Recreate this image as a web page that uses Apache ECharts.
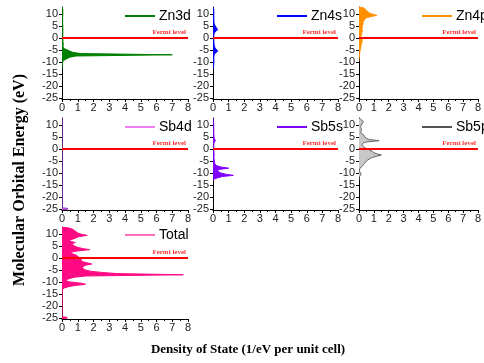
<!DOCTYPE html>
<html><head><meta charset="utf-8">
<script src="https://cdn.jsdelivr.net/npm/echarts@6/dist/echarts.min.js"></script>
<style>html,body{margin:0;padding:0;background:#fff}#c{width:484px;height:363px}</style>
</head><body><div id="c"></div>
<script>
// Energy grid (eV), shared by all panels
const energy = [
  13,12.5,12,11.5,11,10.5,10,9.5,9,8.5,
  8,7.5,7,6.5,6,5.5,5,4.5,4,3.5,
  3,2.5,2,1.5,1,0.5,0,-0.5,-1,-1.5,
  -2,-2.5,-3,-3.5,-4,-4.5,-5,-5.5,-6,-6.5,
  -7,-7.5,-8,-8.5,-9,-9.5,-10,-10.5,-11,-11.5,
  -12,-12.5,-13,
  -24.6,-24.8,-25.2,-25.4
];
const zn3d = [
  0.03,0.03,0.05,0.05,0.05,0.05,0.05,0.05,0.04,0.04,
  0.04,0.04,0.04,0.04,0.04,0.05,0.05,0.05,0.06,0.06,
  0.05,0.05,0.05,0.05,0.05,0.05,0.05,0.05,0.06,0.06,
  0.07,0.08,0.07,0.07,0.1,0.15,0.35,0.5,0.7,1.2,
  7.0,0.9,0.5,0.35,0.2,0.08,0.04,0.03,0.03,0.02,
  0.02,0.01,0,
  null,null,null,null
];
const zn4s = [
  0,0.02,0.05,0.04,0.06,0.05,0.06,0.05,0.06,0.05,
  0.06,0.05,0.06,0.07,0.08,0.1,0.15,0.2,0.25,0.3,
  0.2,0.12,0.08,0.06,0.05,0.04,0.03,0.04,0.05,0.06,
  0.06,0.07,0.08,0.1,0.12,0.18,0.25,0.3,0.2,0.12,
  0.08,0.06,0.05,0.05,0.06,0.05,0.06,0.05,0.05,0.04,
  0.03,0.01,0,
  null,null,null,null
];
const zn4p = [
  0.1,0.35,0.45,0.5,0.6,0.7,0.9,1.2,0.8,0.5,
  0.4,0.35,0.3,0.25,0.3,0.25,0.2,0.25,0.2,0.2,
  0.25,0.2,0.15,0.2,0.15,0.12,0.15,0.2,0.22,0.2,
  0.18,0.15,0.15,0.12,0.12,0.1,0.08,0.06,0.05,0.04,
  0.04,0.03,0.02,0.01,0,0,null,null,null,null,
  null,null,null,
  null,null,null,null
];
const sb4d = [
  0.01,0.01,0.01,0.01,0.01,0.01,0.01,0.01,0.01,0.01,
  0.01,0.01,0.01,0.01,0.01,0.01,0.01,0.01,0.01,0.01,
  0.01,0.01,0.01,0.01,0.01,0.01,0.01,0.01,0.01,0.01,
  0.01,0.01,0.01,0.01,0.01,0.01,0.01,0.01,0.01,0.01,
  0.01,0.01,0.01,0.01,0.01,0.01,0.01,0.01,0.01,0.01,
  0.01,0.01,0.01,
  0.01,0.35,0.35,0.01
];
const sb5s = [
  0,0.01,0.03,0.03,0.04,0.04,0.05,0.05,0.04,0.04,
  0.05,0.05,0.05,0.05,0.06,0.06,0.07,0.08,0.12,0.15,
  0.1,0.06,0.05,0.05,0.05,0.04,0.04,0.05,0.06,0.06,
  0.07,0.07,0.06,0.06,0.07,0.08,0.09,0.1,0.12,0.15,
  0.25,0.5,1.0,0.4,0.3,0.35,0.5,0.8,1.3,0.6,
  0.3,0.1,0.02,
  null,null,null,null
];
const sb5p = [
  0.02,0.1,0.2,0.3,0.25,0.2,0.15,0.12,0.12,0.15,
  0.15,0.15,0.12,0.15,0.3,0.35,0.4,0.5,0.7,1.35,
  0.5,0.3,0.2,0.25,0.3,0.4,0.6,0.75,0.9,1.0,
  1.2,1.5,1.2,0.9,0.75,0.6,0.5,0.45,0.35,0.3,
  0.25,0.15,0.08,0.04,0.03,0.05,0.1,0.15,0.1,0.03,
  0.01,0,0,
  null,null,null,null
];
const total = [
  0.05,0.5,0.7,0.8,0.9,1.0,1.2,1.6,1.1,0.9,
  0.7,0.5,0.5,0.85,0.6,0.7,0.8,1.0,1.3,1.75,
  1.0,0.6,0.55,0.8,0.95,1.05,1.15,1.2,1.25,1.3,
  1.6,1.9,1.5,1.35,1.3,1.35,1.5,1.8,2.5,3.5,
  7.7,1.5,0.8,0.5,0.3,0.25,0.5,1.2,1.5,0.8,
  0.4,0.15,0.02,
  0,0.32,0.32,0
];
const seriesNames = ['Zn3d','Zn4s','Zn4p','Sb4d','Sb5s','Sb5p','Total'];
const xTicks = [0,1,2,3,4,5,6,7,8];
const yTickValues = [-25,-20,-15,-10,-5,0,5,10];

const panels = [
  {name:'Zn3d', dos:zn3d, fill:'#008000', stroke:'#008000', leg:'#008000', left:62, top:7, w:126, h:92, lx:125, ly:9},
  {name:'Zn4s', dos:zn4s, fill:'#0000ff', stroke:'#0000ff', leg:'#0000ff', left:213, top:7, w:125, h:92, lx:277, ly:9},
  {name:'Zn4p', dos:zn4p, fill:'#ff9000', stroke:'#ff9000', leg:'#ff9000', left:359, top:7, w:125, h:92, lx:422, ly:9},
  {name:'Sb4d', dos:sb4d, fill:'#e878e8', stroke:'#9a30c8', leg:'#f080f0', left:62, top:118, w:126, h:92, lx:125, ly:120},
  {name:'Sb5s', dos:sb5s, fill:'#7f00ff', stroke:'#7f00ff', leg:'#7f00ff', left:213, top:118, w:125, h:92, lx:277, ly:120},
  {name:'Sb5p', dos:sb5p, fill:'#c8c8c8', stroke:'#666666', leg:'#555555', left:359, top:118, w:125, h:92, lx:422, ly:120},
  {name:'Total', dos:total, fill:'#ff0a84', stroke:'#ff0a84', leg:'#ff70b8', left:62, top:227, w:126, h:92, lx:125, ly:228}
];

const grid = [], xAxis = [], yAxis = [], series = [], legend = [];
panels.forEach((p, i) => {
  grid.push({left:p.left, top:p.top, width:p.w, height:p.h, containLabel:false});
  xAxis.push({
    type:'value', gridIndex:i, min:0, max:8, interval:1,
    axisLine:{show:true, onZero:false, lineStyle:{color:'#000', width:1}},
    axisTick:{show:true, length:3, lineStyle:{color:'#000'}},
    minorTick:{show:true, splitNumber:2, length:2, lineStyle:{color:'#000'}},
    splitLine:{show:false},
    axisLabel:{color:'#222', fontSize:11, fontFamily:'Liberation Sans', margin:3,
      formatter: v => xTicks.includes(v) ? String(v) : ''}
  });
  yAxis.push({
    type:'value', gridIndex:i, min:-25.5, max:13,
    axisLine:{show:true, onZero:false, lineStyle:{color:'#000', width:1}},
    axisTick:{show:true, length:3, customValues:yTickValues, lineStyle:{color:'#000'}},
    splitLine:{show:false},
    axisLabel:{color:'#222', fontSize:11, fontFamily:'Liberation Sans', margin:4, customValues:yTickValues}
  });
  const pts = [];
  energy.forEach((e, k) => { if (p.dos[k] !== null && p.dos[k] !== undefined) pts.push([p.dos[k], e]); });
  series.push({
    type:'custom', name:p.name, xAxisIndex:i, yAxisIndex:i, clip:true,
    itemStyle:{color:p.leg},
    data: pts,
    renderItem: function(params, api) {
      if (params.dataIndex !== 0) return null;
      const line = pts.map(q => api.coord(q));
      const closed = line.concat([api.coord([0, pts[pts.length-1][1]]), api.coord([0, pts[0][1]])]);
      return {type:'group', children:[
        {type:'polygon', shape:{points:closed}, style:{fill:p.fill, stroke:null}},
        {type:'polyline', shape:{points:line}, style:{stroke:p.stroke, lineWidth:1, fill:null}}
      ]};
    },
    markLine:{
      silent:true, symbol:['none','none'], z:5,
      data:[{yAxis:0}],
      lineStyle:{color:'#ff0000', width:2, type:'solid'},
      label:{show:true, position:'insideEndTop', formatter:'Fermi level', color:'#ff3030',
        fontSize:7, fontFamily:'Liberation Serif', fontWeight:'bold', distance:2},
      emphasis:{disabled:true}
    }
  });
  legend.push({
    left:p.lx, top:p.ly, padding:0, itemWidth:30, itemHeight:2, itemGap:4,
    icon:'rect', selectedMode:false,
    textStyle:{color:'#000', fontSize:14, fontFamily:'Liberation Sans', padding:[0,0,0,-1]},
    data:[{name:p.name, itemStyle:{color:p.leg}}]
  });
});

const chart = echarts.init(document.getElementById('c'), null, {renderer:'canvas'});
chart.setOption({
  animation:false,
  backgroundColor:'#fff',
  grid, xAxis, yAxis, series, legend,
  graphic:[
    {type:'text', x:20, y:180, rotation:Math.PI/2,
      style:{text:'Molecular Orbital Energy (eV)', font:'bold 16px "Liberation Serif"', fill:'#000', align:'center', verticalAlign:'middle'}},
    {type:'text', x:248, y:350,
      style:{text:'Density of State (1/eV per unit cell)', font:'bold 13px "Liberation Serif"', fill:'#000', align:'center', verticalAlign:'middle'}}
  ]
});
</script></body></html>
